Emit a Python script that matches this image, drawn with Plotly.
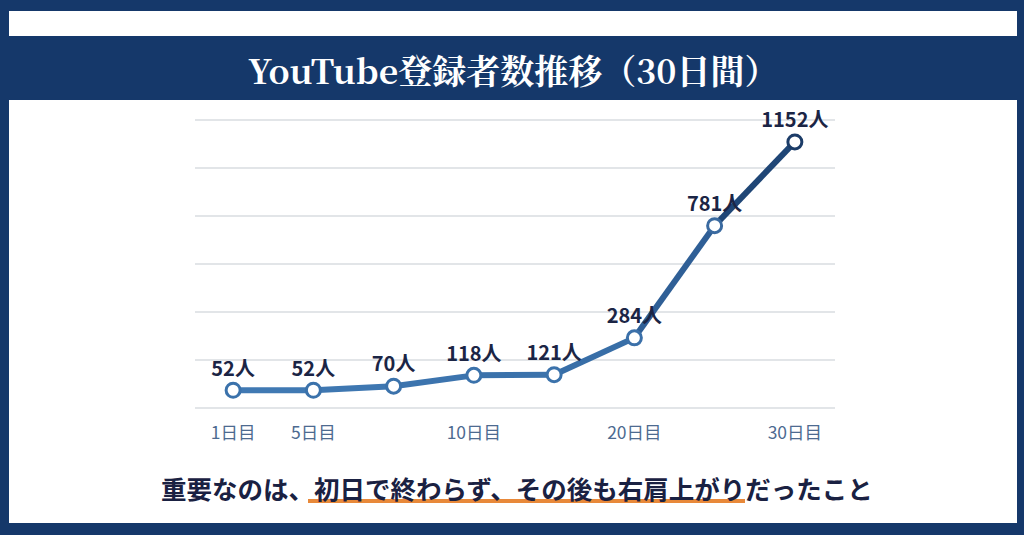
import plotly.graph_objects as go

# ---- data ----
day_index = [0, 1, 2, 3, 4, 5, 6, 7]
subscribers = [52, 52, 70, 118, 121, 284, 781, 1152]
point_labels = [f"{v}人" for v in subscribers]
tick_positions = [0, 1, 3, 5, 7]
tick_labels = ["1日目", "5日目", "10日目", "20日目", "30日目"]
segment_colors = ["#4079b3", "#3e77b1", "#3c74ae", "#3b72ab", "#386ea7", "#2f5f96", "#1f4676"]
marker_colors = ["#3b72ab", "#3b72ab", "#3b72ab", "#3b72ab", "#3b72ab", "#3b70a9", "#3a6aa0", "#1c3c68"]

title_text = "YouTube登録者数推移（30日間）"
caption_text = "重要なのは、初日で終わらず、その後も右肩上がりだったこと"

NAVY = "#15386a"
W, H = 1024, 535
L, R, T, B = 195, 835, 120, 408  # plot area in pixels


def px(x):
    return (x - L) / (R - L)


def py(y):
    return (B - y) / (B - T)


fig = go.Figure()

# line segments (colour shading toward the top)
for i in range(len(day_index) - 1):
    fig.add_trace(go.Scatter(
        x=day_index[i:i + 2], y=subscribers[i:i + 2], mode="lines",
        line=dict(color=segment_colors[i], width=6),
        hoverinfo="skip", showlegend=False, cliponaxis=False,
    ))

# markers + labels
fig.add_trace(go.Scatter(
    x=day_index, y=subscribers, mode="markers+text",
    marker=dict(size=14, color="white", line=dict(color=marker_colors, width=3)),
    text=point_labels, textposition="top center",
    textfont=dict(family="Noto Sans CJK JP", size=20, color="#1b2545", weight="bold"),
    showlegend=False, cliponaxis=False,
))

shapes = [
    # white top strip
    dict(type="rect", xref="paper", yref="paper", x0=px(9), x1=px(1017), y0=py(11), y1=py(36),
         fillcolor="white", line=dict(width=0), layer="below"),
    # white main panel
    dict(type="rect", xref="paper", yref="paper", x0=px(9), x1=px(1017), y0=py(100), y1=py(523),
         fillcolor="white", line=dict(width=0), layer="below"),
]
# horizontal gridlines
for k in range(7):
    shapes.append(dict(type="line", xref="paper", yref="paper", x0=0, x1=1, y0=k / 6, y1=k / 6,
                       line=dict(color="#d9dce1", width=1.5), layer="below"))
# orange underline below caption
shapes.append(dict(type="line", xref="paper", yref="paper", x0=px(308), x1=px(745),
                   y0=py(501), y1=py(501), line=dict(color="#e8893a", width=4), layer="below"))

annotations = [
    dict(text=title_text, xref="paper", yref="paper", x=px(513), y=py(70),
         xanchor="center", yanchor="middle", showarrow=False,
         font=dict(family="Noto Serif CJK JP, Liberation Serif, Noto Sans CJK JP", size=34,
                   color="white", weight="bold")),
    dict(text=caption_text, xref="paper", yref="paper", x=px(517), y=py(487),
         xanchor="center", yanchor="middle", showarrow=False,
         font=dict(family="Noto Sans CJK JP", size=25.5, color="#1a2142", weight="bold")),
]

fig.update_layout(
    width=W, height=H,
    margin=dict(l=L, r=W - R, t=T, b=H - B, pad=0),
    paper_bgcolor=NAVY, plot_bgcolor="rgba(0,0,0,0)",
    shapes=shapes, annotations=annotations,
    showlegend=False,
    xaxis=dict(range=[-0.475, 7.5], tickvals=tick_positions, ticktext=tick_labels,
               showgrid=False, zeroline=False, showline=False, ticks="",
               ticklabelstandoff=12,
               tickfont=dict(family="Noto Sans CJK JP", size=17.5, color="#4d6a90"),
               fixedrange=True),
    yaxis=dict(range=[-26.6, 1249], showgrid=False, zeroline=False, showline=False,
               showticklabels=False, ticks="", fixedrange=True),
)

fig.write_html("out.html", config={"displayModeBar": False},
               post_script="document.body.style.margin='0';document.body.style.overflow='hidden';")
